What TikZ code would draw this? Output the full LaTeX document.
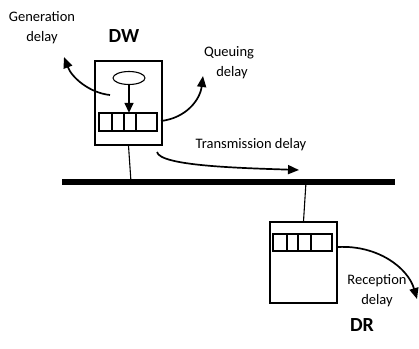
\documentclass[tikz,border=0pt]{standalone}
\usepackage{fontspec}
\setmainfont{Carlito}
\usetikzlibrary{arrows.meta,shapes.geometric}
\begin{document}
\begin{tikzpicture}[x=1pt,y=-1pt,
  lbl/.style={font=\fontsize{14.5}{16}\selectfont, inner sep=0pt},
  hostlbl/.style={font=\fontsize{20}{22}\selectfont\bfseries, inner sep=0pt},
  hostbox/.style={draw, line width=1.3pt, inner sep=0pt},
  qcell/.style={draw, line width=1.1pt, inner sep=0pt},
  delayarrow/.style={line width=1.7pt, -{Triangle[length=11pt,width=9pt]}},
  wire/.style={line width=1.1pt}]
\useasboundingbox (0,0) rectangle (419,348);

% shared bus
\draw[line width=6pt] (62,182) -- (395,182);
\coordinate (busW) at (131,182);
\coordinate (busR) at (306,182);

% writer host DW
\node[hostbox, minimum width=67pt, minimum height=84pt] (dw) at (128.5,103) {};
\node[draw, ellipse, line width=1.1pt, minimum width=32pt, minimum height=13pt, inner sep=0pt] (gen) at (129,78) {};
\draw[qcell] (99,113) rectangle (157,131);
\node[inner sep=0pt, minimum width=58pt, minimum height=18pt] (qw) at (129,122) {};
\foreach \x in {112,124,136} \draw[qcell] (\x,113) -- (\x,131);
\draw[line width=1.5pt, -{Triangle[length=10pt,width=9pt]}] (gen.south) -- (qw.north);
\draw[wire] (dw.south) -- (busW);
\node[hostlbl] (dwl) at (124,36) {DW};

% reader host DR
\node[hostbox, minimum width=67pt, minimum height=81pt] (dr) at (303.5,262.5) {};
\draw[qcell] (273,234) rectangle (332,251);
\node[inner sep=0pt, minimum width=59pt, minimum height=17pt] (qr) at (302.5,242.5) {};
\foreach \x in {287,298,311} \draw[qcell] (\x,234) -- (\x,251);
\draw[wire] (busR) -- (dr.north);
\node[hostlbl] (drl) at (362,325) {DR};

% delay labels
\node[lbl, align=center] (gl) at (42,28) {Generation\\[4pt]delay};
\node[lbl, align=center] (ql) at (229,63) {Queuing\\[4pt]\hspace*{6pt}delay};
\node[lbl] (tl) at (251,145) {Transmission delay};
\node[lbl, align=center] (rl) at (377,291) {Reception\\[4pt]delay};

% delay arrows
\coordinate (gs) at (110,95);
\coordinate (ge) at (64,57);
\draw[delayarrow] (gs) .. controls (90,93) and (72,78) .. (ge);
\coordinate (qs) at (161,121);
\coordinate (qe) at (203,76);
\draw[delayarrow] (qs) .. controls (186,118) and (200,100) .. (qe);
\coordinate (ts) at (157,152);
\coordinate (te) at (299,170);
\draw[delayarrow] (ts) .. controls (160,166) and (240,168) .. (te);
\coordinate (rs) at (338,247);
\coordinate (re) at (417,299);
\draw[delayarrow] (rs) .. controls (378,245) and (408,268) .. (re);
\end{tikzpicture}
\end{document}
